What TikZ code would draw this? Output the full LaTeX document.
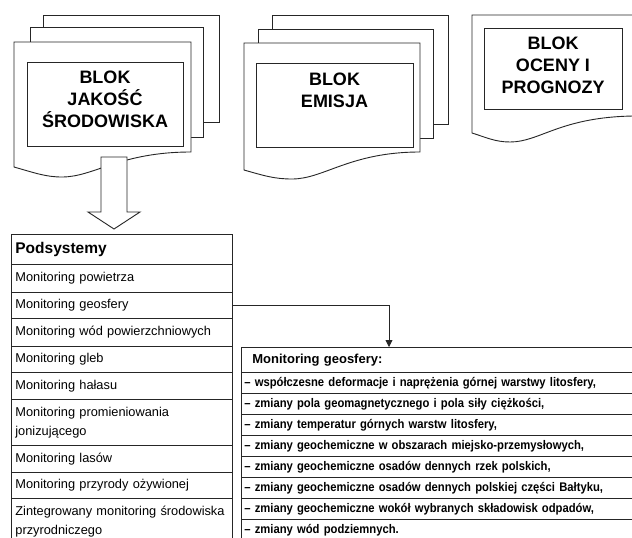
\documentclass[tikz,border=0pt]{standalone}
\usepackage{fontspec}
\setmainfont{Liberation Sans}
\newfontfamily\condfont{Liberation Sans}[FakeStretch=0.9]
\usetikzlibrary{arrows.meta}
\definecolor{linec}{gray}{0.15}
\begin{document}
\begin{tikzpicture}[x=1pt,y=-1pt,
  page/.style={draw=linec, fill=white, line width=0.9pt},
  innerbox/.style={draw=linec, line width=0.9pt, inner sep=0pt},
  blocktext/.style={font=\fontsize{18}{22}\selectfont\bfseries, align=center, text=black},
  lrow/.style={draw=linec, line width=0.8pt, anchor=north west, inner xsep=4pt, inner ysep=0pt,
    text width=213pt, align=left, font=\fontsize{12.8}{19}\selectfont},
  lhead/.style={lrow, font=\fontsize{15.5}{19}\selectfont\bfseries},
  rrow/.style={draw=linec, line width=0.8pt, anchor=north west, inner xsep=3pt, inner ysep=0pt,
    text width=420pt, align=left, minimum height=21pt, font=\condfont\bfseries\fontsize{12.5}{15}\selectfont},
  rhead/.style={rrow, inner xsep=11pt, text width=404pt, minimum height=25pt, font=\bfseries\fontsize{13}{15}\selectfont},
  conn/.style={draw=linec, line width=0.9pt, -{Triangle[length=7pt,width=7pt]}}
]
\useasboundingbox (0,0) rectangle (632,538);
\clip (0,0) rectangle (632,538);
\fill[white] (0,0) rectangle (632,538);

% Block 1
\draw[page] (43,15) rectangle (219,122);
\draw[page] (30,27) rectangle (203,137);
\draw[page] (14,42) -- (191,42) -- (191,152) .. controls (120,152) and (94,177) .. (62,177) .. controls (46,177) and (35,173) .. (14,167) -- cycle;
\node[innerbox, minimum width=156pt, minimum height=84pt] (b1) at (105,104) {};
\node[blocktext] (t1) at (105,99) {BLOK\\JAKOŚĆ\\ŚRODOWISKA};
\draw[page] (101,157) -- (127,157) -- (127,212) -- (140,212) -- (114,229) -- (88,212) -- (101,212) -- cycle;

% Block 2
\draw[page] (272,15) rectangle (448,124);
\draw[page] (258,29) rectangle (433,138);
\draw[page] (244,43) -- (420,43) -- (420,152) .. controls (350,152) and (324,179) .. (292,179) .. controls (275,179) and (265,176) .. (244,170) -- cycle;
\node[innerbox, minimum width=157pt, minimum height=84pt] (b2) at (334.5,105) {};
\node[blocktext] (t2) at (334.5,90) {BLOK\\EMISJA};

% Block 3
\draw[page] (472,15) -- (640,15) -- (640,116) -- (634,116) .. controls (560,117) and (540,142) .. (510,142) .. controls (495,142) and (485,137) .. (472,133) -- cycle;
\node[innerbox, minimum width=138pt, minimum height=81pt] (b3) at (553,68.5) {};
\node[blocktext] (t3) at (553,65) {BLOK\\OCENY I\\PROGNOZY};

% Left table
\node[lhead, minimum height=30pt] (r0) at (11,234) {Podsystemy};
\node[lrow, minimum height=28pt] (r1) at (11,264) {Monitoring powietrza};
\node[lrow, minimum height=26pt] (r2) at (11,292) {Monitoring geosfery};
\node[lrow, minimum height=28pt] (r3) at (11,318) {Monitoring wód powierzchniowych};
\node[lrow, minimum height=26pt] (r4) at (11,346) {Monitoring gleb};
\node[lrow, minimum height=27pt] (r5) at (11,372) {Monitoring hałasu};
\node[lrow, minimum height=46pt] (r6) at (11,399) {Monitoring promieniowania\\jonizującego};
\node[lrow, minimum height=27pt] (r7) at (11,445) {Monitoring lasów};
\node[lrow, minimum height=26pt] (r8) at (11,472) {Monitoring przyrody ożywionej};
\node[lrow, minimum height=47pt] (r9) at (11,498) {Zintegrowany monitoring środowiska\\przyrodniczego};

% Right table
\node[rhead] (g0) at (241,347) {Monitoring geosfery:};
\node[rrow] (g1) at (241,372) {– współczesne deformacje i naprężenia górnej warstwy litosfery,};
\node[rrow] (g2) at (241,393) {– zmiany pola geomagnetycznego i pola siły ciężkości,};
\node[rrow] (g3) at (241,414) {– zmiany temperatur górnych warstw litosfery,};
\node[rrow] (g4) at (241,435) {– zmiany geochemiczne w obszarach miejsko-przemysłowych,};
\node[rrow] (g5) at (241,456) {– zmiany geochemiczne osadów dennych rzek polskich,};
\node[rrow] (g6) at (241,477) {– zmiany geochemiczne osadów dennych polskiej części Bałtyku,};
\node[rrow] (g7) at (241,498) {– zmiany geochemiczne wokół wybranych składowisk odpadów,};
\node[rrow] (g8) at (241,519) {– zmiany wód podziemnych.};

% Connector
\coordinate (gtop) at (389,347);
\draw[conn] (r2.east) -| (gtop);
\end{tikzpicture}
\end{document}
